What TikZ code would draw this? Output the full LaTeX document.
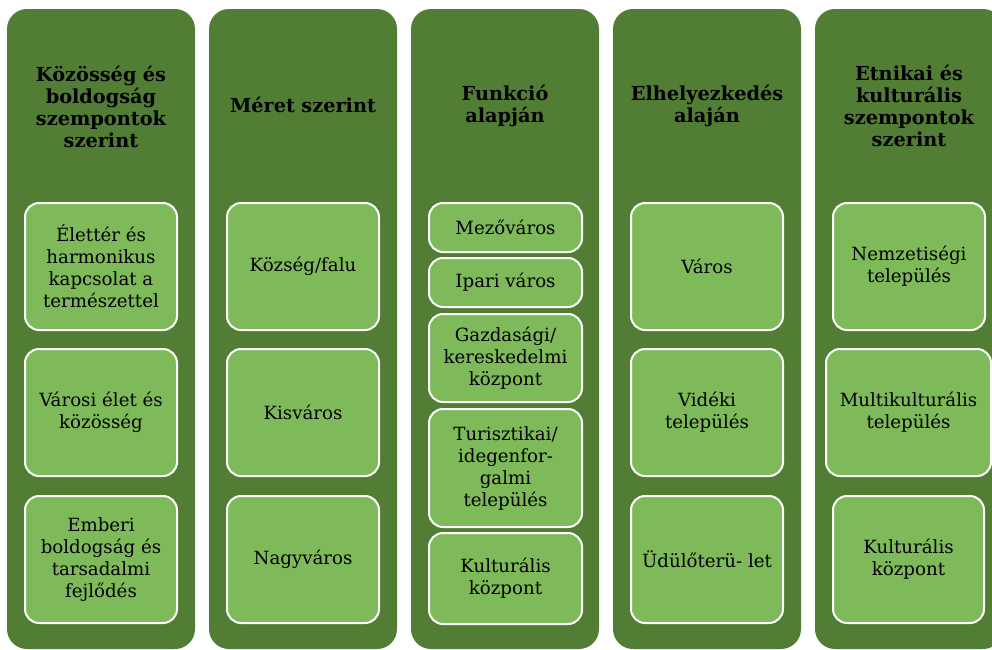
\documentclass[tikz,border=0pt]{standalone}
\usepackage{fontspec}
\setmainfont{DejaVu Serif}
\definecolor{darkg}{HTML}{527D35}
\definecolor{lightg}{HTML}{7EBA5A}
\begin{document}
\begin{tikzpicture}[x=1pt,y=-1pt,
  colbox/.style={fill=darkg,draw=none,rounded corners=20pt,minimum width=188,minimum height=640,inner sep=0},
  head/.style={text width=186,align=center,font=\fontsize{19.3}{22}\selectfont\bfseries,text=black,inner sep=0},
  ibox/.style={fill=lightg,draw=white,line width=2pt,rounded corners=14pt,inner sep=0,align=center,
    font=\fontsize{18.2}{22}\selectfont,text=black,minimum width=152,minimum height=127},
  sbox/.style={ibox,minimum width=153}]
\useasboundingbox (0,0) rectangle (992,649);
\clip (0,0) rectangle (992,649);
\node[colbox] (c1) at (101,329) {};
\node[colbox] (c2) at (303,329) {};
\node[colbox] (c3) at (505,329) {};
\node[colbox] (c4) at (707,329) {};
\node[colbox] (c5) at (909,329) {};
\node[head] (h1) at (101,107) {Közösség és\\boldogság\\szempontok\\szerint};
\node[head] (h2) at (303,105) {Méret szerint};
\node[head] (h3) at (505,106) {Funkció\\alapján};
\node[head] (h4) at (707,106) {Elhelyezkedés\\alaján};
\node[head] (h5) at (909,106) {Etnikai és\\kulturális\\szempontok\\szerint};
% column 1
\node[ibox] (a1) at (101,266.5) {Élettér és\\harmonikus\\kapcsolat a\\természettel};
\node[ibox] (a2) at (101,412.5) {Városi élet és\\közösség};
\node[ibox] (a3) at (101,559.5) {Emberi\\boldogság és\\tarsadalmi\\fejlődés};
% column 2
\node[ibox] (b1) at (303,266.5) {Község/falu};
\node[ibox] (b2) at (303,412.5) {Kisváros};
\node[ibox] (b3) at (303,559.5) {Nagyváros};
% column 3
\node[sbox,minimum height=49] (d1) at (505.5,227.5) {Mezőváros};
\node[sbox,minimum height=49] (d2) at (505.5,282.5) {Ipari város};
\node[sbox,minimum height=88] (d3) at (505.5,358) {Gazdasági/\\kereskedelmi\\központ};
\node[sbox,minimum height=118] (d4) at (505.5,468) {Turisztikai/\\idegenfor-\\galmi\\település};
\node[sbox,minimum height=91] (d5) at (505.5,578.5) {Kulturális\\központ};
% column 4
\node[ibox] (e1) at (707,266.5) {Város};
\node[ibox] (e2) at (707,412.5) {Vidéki\\település};
\node[ibox] (e3) at (707,559.5) {Üdülőterü- let};
% column 5
\node[ibox] (f1) at (909,266.5) {Nemzetiségi\\település};
\node[ibox,minimum width=165] (f2) at (908.5,412.5) {Multikulturális\\település};
\node[ibox,minimum width=151] (f3) at (908.5,559.5) {Kulturális\\központ};
\end{tikzpicture}
\end{document}
